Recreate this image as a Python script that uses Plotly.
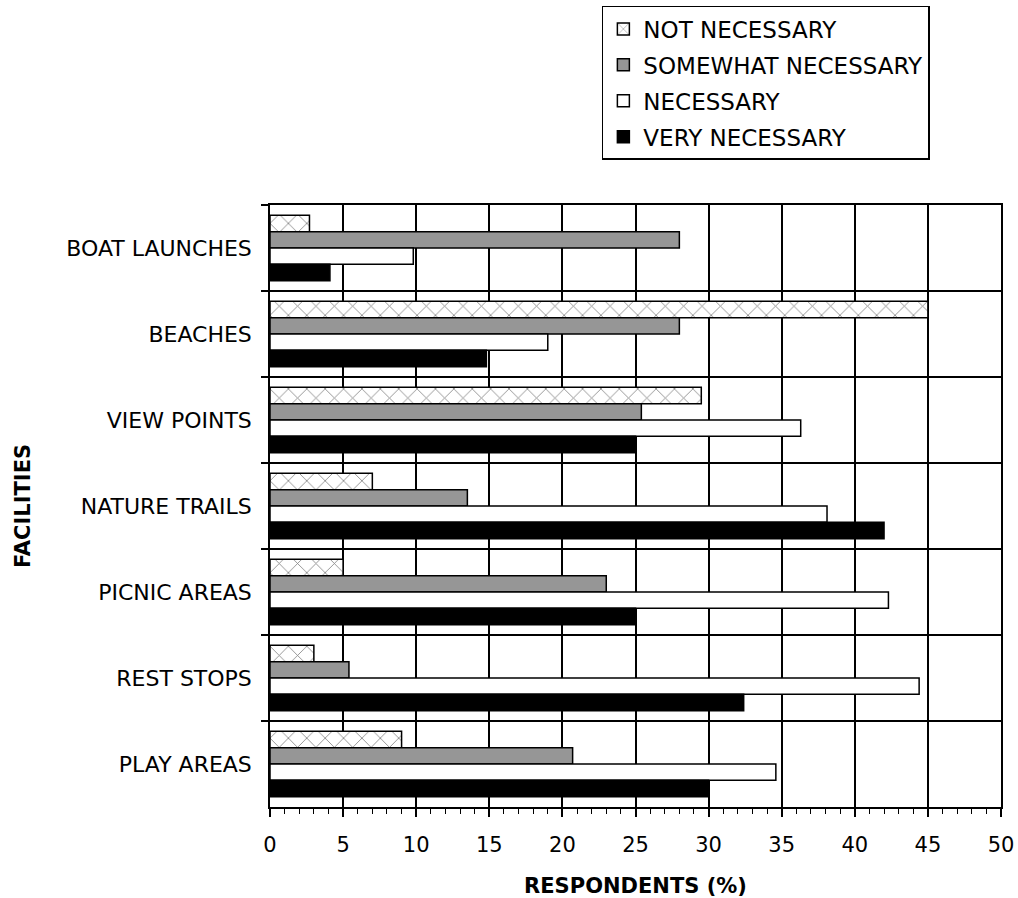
import plotly.graph_objects as go

categories = ["BOAT LAUNCHES", "BEACHES", "VIEW POINTS", "NATURE TRAILS",
              "PICNIC AREAS", "REST STOPS", "PLAY AREAS"]
not_necessary = [2.7, 45.0, 29.5, 7.0, 5.0, 3.0, 9.0]
somewhat_necessary = [28.0, 28.0, 25.4, 13.5, 23.0, 5.4, 20.7]
necessary = [9.8, 19.0, 36.3, 38.1, 42.3, 44.4, 34.6]
very_necessary = [4.1, 14.8, 25.0, 42.0, 25.0, 32.4, 30.0]
series_names = ["NOT NECESSARY", "SOMEWHAT NECESSARY", "NECESSARY", "VERY NECESSARY"]
x_ticks = [0, 5, 10, 15, 20, 25, 30, 35, 40, 45, 50]

FONT = "DejaVu Sans"

fig = go.Figure()
styles = [
    dict(color="white", pattern=dict(shape="x", fgcolor="black", bgcolor="white", size=13, solidity=0.12)),
    dict(color="#969696"),
    dict(color="white"),
    dict(color="black"),
]
for i, (name, vals) in enumerate(zip(series_names,
                                     [not_necessary, somewhat_necessary, necessary, very_necessary])):
    marker = dict(line=dict(color="black", width=1.5))
    marker.update(styles[i])
    fig.add_trace(go.Bar(
        y=categories, x=vals, name=name, orientation="h",
        marker=marker, legendgroup=name,
    ))

fig.update_layout(
    width=1018, height=898,
    paper_bgcolor="white", plot_bgcolor="white",
    margin=dict(l=270, r=17, t=205, b=91, autoexpand=False),
    barmode="group", bargap=0.24, bargroupgap=0.0,
    font=dict(family=FONT, size=20, color="black"),
    showlegend=True,
    legend=dict(
        x=0.454, y=1.3306, xanchor="left", yanchor="top",
        bgcolor="white", bordercolor="black", borderwidth=1.5,
        font=dict(family=FONT, size=23, color="black"),
        tracegroupgap=3, itemwidth=30,
    ),
)

fig.update_xaxes(
    range=[0, 50], tickvals=x_ticks, ticktext=[str(v) for v in x_ticks],
    automargin=False,
    showgrid=True, gridcolor="black", gridwidth=1.5,
    showline=True, linecolor="black", linewidth=1.5, mirror=True,
    ticks="outside", ticklen=8, tickwidth=1.5, tickcolor="black",
    minor=dict(dtick=1, ticks="outside", ticklen=5, tickwidth=1.2, tickcolor="black", showgrid=False),
    zeroline=False,
    tickfont=dict(family=FONT, size=21),
    ticklabelstandoff=10,
    title=dict(text="<b>RESPONDENTS (%)</b>", font=dict(family=FONT, size=21), standoff=22),
)
fig.update_yaxes(
    type="category", autorange="reversed", tickson="boundaries",
    automargin=False,
    showgrid=True, gridcolor="black", gridwidth=1.5,
    showline=True, linecolor="black", linewidth=1.5, mirror=True,
    ticks="outside", ticklen=7, tickwidth=1.5, tickcolor="black",
    tickfont=dict(family=FONT, size=22),
    ticklabelstandoff=12,
    title=dict(text="<b>FACILITIES</b>", font=dict(family=FONT, size=21), standoff=30),
)

fig.write_html(
    "out.html",
    config={"displayModeBar": False},
    post_script="document.body.style.margin='0';document.body.style.overflow='hidden';",
)
